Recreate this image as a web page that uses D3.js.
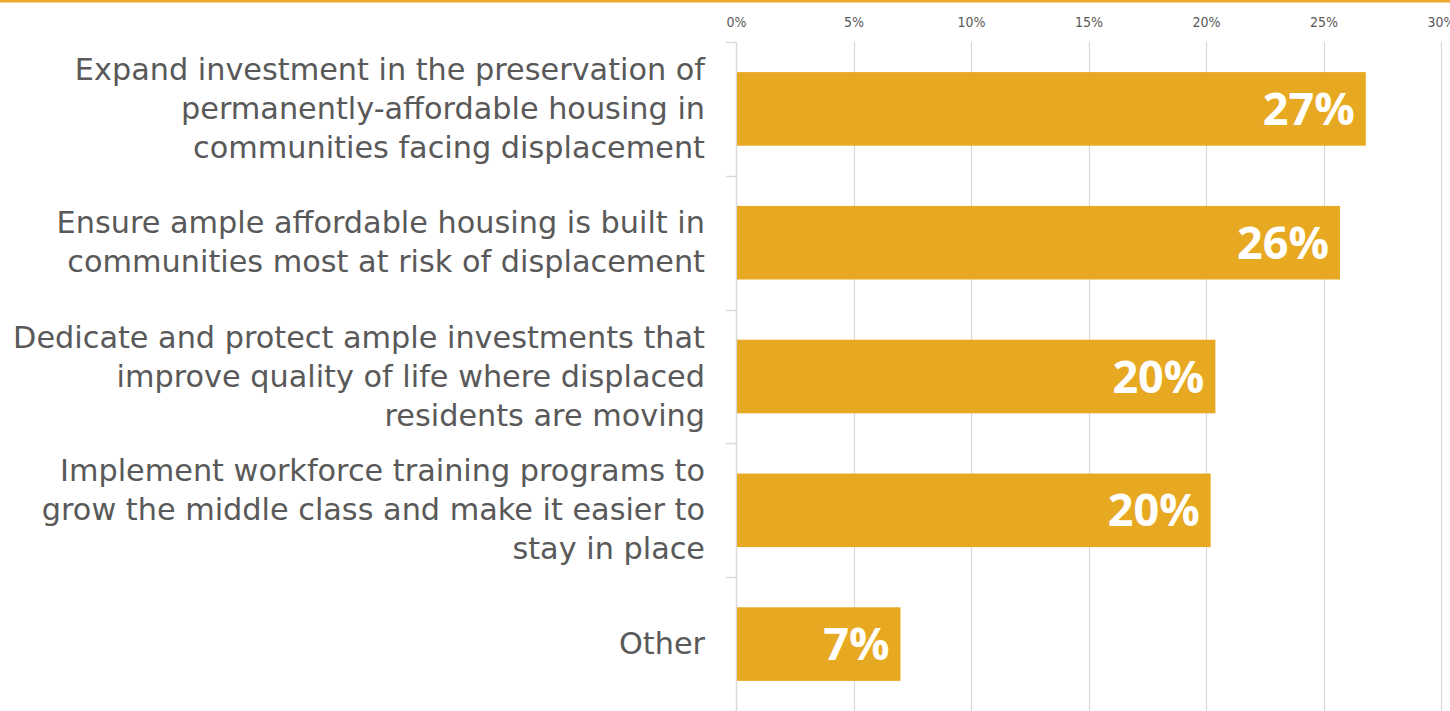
<!DOCTYPE html>
<html>
<head>
<meta charset="utf-8">
<script src="https://cdn.jsdelivr.net/npm/d3@7"></script>
<style>
  html, body { margin: 0; padding: 0; background: #ffffff; }
  svg { display: block; }
</style>
</head>
<body>
<svg id="chart" width="1450" height="711"></svg>
<script>
// ---- data ----
const categories = [
  "Expand investment in the preservation of\npermanently-affordable housing in\ncommunities facing displacement",
  "Ensure ample affordable housing is built in\ncommunities most at risk of displacement",
  "Dedicate and protect ample investments that\nimprove quality of life where displaced\nresidents are moving",
  "Implement workforce training programs to\ngrow the middle class and make it easier to\nstay in place",
  "Other"
];
const values = [26.8, 25.7, 20.4, 20.2, 7.0];
const valueLabels = ["27%", "26%", "20%", "20%", "7%"];
const tickValues = [0, 5, 10, 15, 20, 25, 30];
const tickLabels = ["0%", "5%", "10%", "15%", "20%", "25%", "30%"];

// ---- layout ----
const W = 1450, H = 711;
const plotLeft = 736, plotRight = 1441, plotTop = 42, plotBottom = 711;
const barColor = "#E8A922";
const textColor = "#595959";
const gridColor = "#D9D9D9";
const catFont = "'DejaVu Sans', sans-serif";
const tickFont = "'DejaVu Sans Condensed', 'DejaVu Sans', sans-serif";

const svg = d3.select("#chart");

// top orange rule
svg.append("rect").attr("x", 0).attr("y", 0).attr("width", W).attr("height", 2.5)
  .attr("fill", "#EFA82E");

const x = d3.scaleLinear().domain([0, 30]).range([plotLeft, plotRight]);
const y = d3.scaleBand().domain(d3.range(categories.length))
  .range([plotTop, plotBottom]).paddingInner(0.45).paddingOuter(0.225);

// gridlines
svg.append("g").selectAll("line").data(tickValues.slice(1)).join("line")
  .attr("x1", d => Math.round(x(d)) + 0.5).attr("x2", d => Math.round(x(d)) + 0.5)
  .attr("y1", plotTop).attr("y2", plotBottom)
  .attr("stroke", gridColor).attr("stroke-width", 1.2);

// top axis labels
const xAxis = d3.axisTop(x).tickValues(tickValues)
  .tickFormat((d, i) => tickLabels[i]).tickSize(0).tickPadding(0);
const gx = svg.append("g").attr("transform", `translate(0, 27)`).call(xAxis);
gx.select(".domain").remove();
gx.selectAll("text").attr("fill", textColor).attr("font-size", 14)
  .attr("font-family", tickFont);

// category axis (left) line + boundary ticks
const boundaries = d3.range(categories.length + 1).map(i => plotTop + i * (plotBottom - plotTop) / categories.length);
svg.append("line").attr("x1", plotLeft + 0.5).attr("x2", plotLeft + 0.5)
  .attr("y1", plotTop).attr("y2", plotBottom)
  .attr("stroke", gridColor).attr("stroke-width", 1.5);
svg.append("g").selectAll("line").data(boundaries).join("line")
  .attr("x1", plotLeft - 10).attr("x2", plotLeft + 0.5)
  .attr("y1", d => Math.round(d) + 0.5).attr("y2", d => Math.round(d) + 0.5)
  .attr("stroke", gridColor).attr("stroke-width", 1.5);

// bars
svg.append("g").selectAll("rect").data(values).join("rect")
  .attr("x", x(0) + 1)
  .attr("y", (d, i) => y(i))
  .attr("width", d => x(d) - x(0) - 1)
  .attr("height", y.bandwidth())
  .attr("fill", barColor);

// value labels
svg.append("g").selectAll("text").data(values).join("text")
  .attr("x", d => x(d) - 11)
  .attr("y", (d, i) => y(i) + y.bandwidth() / 2 + 16)
  .attr("text-anchor", "end")
  .attr("fill", "#ffffff")
  .attr("font-family", "'Open Sans', sans-serif")
  .attr("font-weight", 700)
  .attr("font-size", 45)
  .text((d, i) => valueLabels[i]);

// category labels
const lineH = 39;
const catG = svg.append("g");
categories.forEach((c, i) => {
  const lines = c.split("\n");
  const cy = y(i) + y.bandwidth() / 2;
  const t = catG.append("text")
    .attr("text-anchor", "end")
    .attr("fill", textColor)
    .attr("font-family", catFont)
    .attr("font-size", 30.3);
  lines.forEach((ln, k) => {
    t.append("tspan")
      .attr("x", 705)
      .attr("y", cy + (k - (lines.length - 1) / 2) * lineH + 10)
      .text(ln);
  });
});
</script>
</body>
</html>
